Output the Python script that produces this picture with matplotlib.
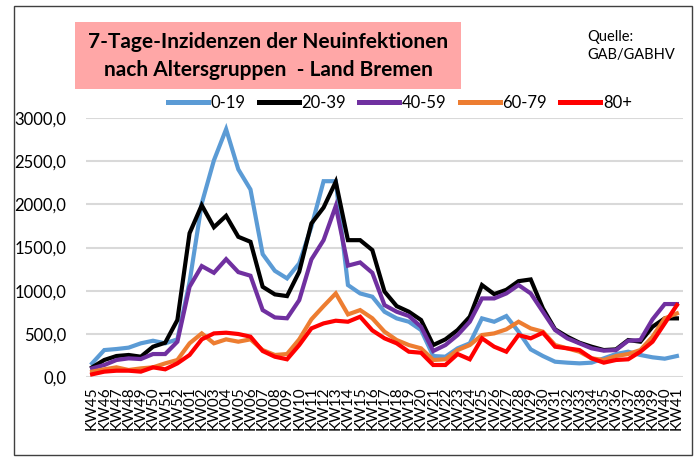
import matplotlib
matplotlib.use("Agg")
import matplotlib.pyplot as plt
from matplotlib.patches import Rectangle

# Kalenderwochen KW45 (2020) bis KW41 (2021)
weeks = ["KW%02d" % w for w in list(range(45, 53)) + list(range(1, 42))]

age_0_19 = [158, 312, 324, 340, 390, 420, 390, 436, 1100, 2010, 2510, 2870, 2405, 2172, 1423, 1230, 1142,
            1316, 1740, 2268, 2268, 1065, 968, 930, 756, 679, 640, 544, 243, 235, 332, 390, 679, 640, 706,
            525, 320, 243, 177, 166, 158, 166, 216, 266, 293, 255, 228, 212, 243]
age_20_39 = [112, 197, 243, 255, 235, 351, 397, 660, 1665, 1990, 1735, 1867, 1624, 1566, 1045, 957, 937,
             1219, 1778, 1963, 2261, 1585, 1585, 1470, 990, 821, 756, 660, 370, 436, 544, 698, 1065, 960,
             1010, 1110, 1130, 795, 552, 467, 397, 351, 312, 320, 428, 409, 582, 679, 679]
age_40_59 = [100, 139, 197, 216, 208, 266, 266, 409, 1045, 1285, 1207, 1365, 1215, 1173, 775, 690, 680,
             890, 1362, 1585, 1980, 1290, 1327, 1207, 833, 756, 706, 582, 301, 370, 486, 640, 910, 910, 968,
             1065, 968, 756, 544, 448, 390, 332, 305, 312, 420, 428, 668, 845, 845]
age_60_79 = [62, 89, 112, 81, 100, 112, 158, 197, 390, 505, 390, 436, 409, 436, 312, 255, 266, 436, 668,
             821, 968, 725, 775, 680, 525, 428, 370, 332, 197, 205, 312, 370, 486, 505, 552, 640, 563, 525,
             370, 332, 293, 216, 197, 243, 266, 312, 467, 679, 737]
age_80 = [31, 62, 73, 73, 62, 112, 89, 158, 255, 436, 505, 513, 498, 467, 301, 235, 205, 370, 563, 621,
          652, 640, 698, 540, 448, 390, 293, 281, 139, 139, 266, 205, 448, 351, 293, 486, 448, 513, 351,
          332, 312, 216, 166, 197, 205, 293, 409, 621, 833]

series = [("0-19", age_0_19, "#5B9BD5"),
          ("20-39", age_20_39, "#000000"),
          ("40-59", age_40_59, "#7030A0"),
          ("60-79", age_60_79, "#ED7D31"),
          ("80+", age_80, "#FF0000")]

plt.rcParams['font.family'] = ['Lato', 'DejaVu Sans']

fig = plt.figure(figsize=(6.97, 4.57), dpi=100)
ax = fig.add_axes([86 / 697, 1 - 377 / 457, (683 - 86) / 697, (377 - 118) / 457])

x = list(range(len(weeks)))
for name, vals, col in series:
    ax.plot(x, vals, color=col, lw=3, label=name, solid_joinstyle='miter')

ax.set_xlim(-0.5, len(weeks) - 0.5)
ax.set_ylim(0, 3000)
ax.set_yticks(range(0, 3001, 500))
ax.set_yticklabels(["%d,0" % v for v in range(0, 3001, 500)], fontsize=12)
ax.set_xticks(x)
ax.set_xticklabels(weeks, rotation=90, fontsize=11)
ax.tick_params(axis='y', length=0, pad=14)
ax.tick_params(axis='x', length=0, pad=7)
ax.grid(axis='y', color='#D9D9D9', lw=1.5)
ax.set_axisbelow(True)
for s in ax.spines.values():
    s.set_visible(False)

leg = ax.legend(loc='lower center', bbox_to_anchor=(0.526, 1.0), ncol=5, frameon=False,
                fontsize=12, handlelength=2.4, handletextpad=0.15, columnspacing=0.8,
                borderaxespad=0)
for h in leg.get_lines():
    h.set_linewidth(3.6)

# Titelkasten
fig.patches.append(Rectangle((75 / 697, 1 - 89 / 457), (461 - 75) / 697, (89 - 22) / 457,
                             transform=fig.transFigure, facecolor='#FFA7A7', edgecolor='none'))
fig.text(268 / 697, 1 - 56 / 457, "7-Tage-Inzidenzen der Neuinfektionen\nnach Altersgruppen  - Land Bremen",
         ha='center', va='center', fontsize=15, fontweight='bold', linespacing=1.45)
fig.text(587 / 697, 1 - 46 / 457, "Quelle:\nGAB/GABHV", ha='left', va='center', fontsize=10.5,
         linespacing=1.3)

# Rahmen
fig.patches.append(Rectangle((14 / 697, 0.005), (692 - 14) / 697, 1 - 6 / 457 - 0.005,
                             transform=fig.transFigure, facecolor='none', edgecolor='#404040', lw=1))

fig.savefig("out.png", dpi=100)
